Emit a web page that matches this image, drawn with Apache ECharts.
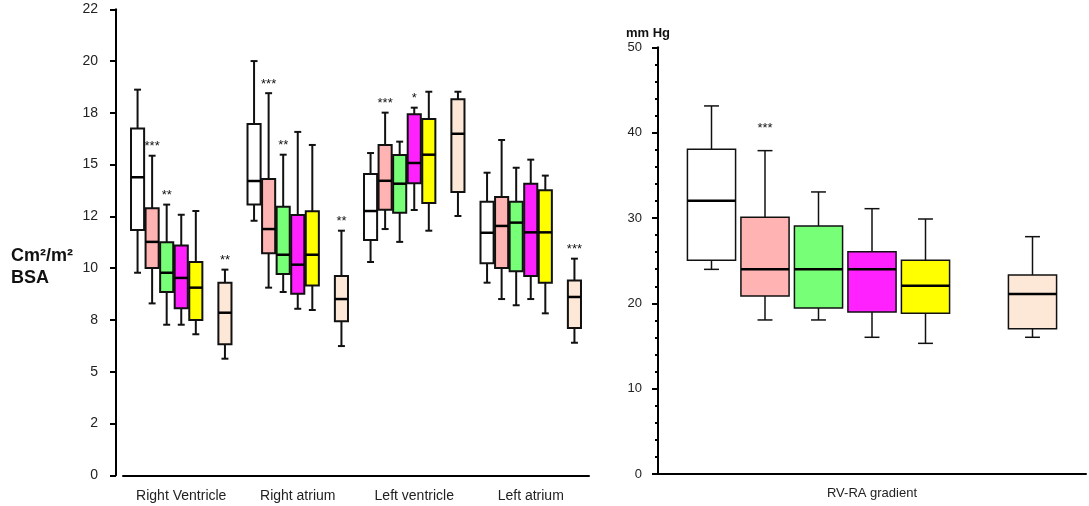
<!DOCTYPE html>
<html>
<head>
<meta charset="utf-8">
<script src="https://cdn.jsdelivr.net/npm/echarts@6/dist/echarts.min.js"></script>
<style>
  html, body { margin: 0; padding: 0; background: #fff; }
  #main { width: 1089px; height: 506px; }
</style>
</head>
<body>
<div id="main"></div>
<script>
// 左图 - 各心腔面积 (min, Q1, median, Q3, max)
const leftCategories = ['Right Ventricle', 'Right atrium', 'Left ventricle', 'Left atrium'];
const leftTickLabels = ['0', '2', '5', '8', '10', '12', '15', '18', '20', '22'];
const leftWhite = [[9.78, 11.84, 14.39, 16.75, 18.62], [12.29, 13.07, 14.21, 16.96, 20.0], [10.30, 11.36, 12.76, 14.55, 15.56], [9.30, 10.24, 11.71, 13.21, 14.61]];
const leftPink = [[8.30, 10.01, 11.27, 12.89, 15.43], [9.06, 10.72, 11.89, 14.31, 18.45], [11.89, 12.82, 14.22, 15.95, 17.51], [8.51, 10.01, 12.04, 13.44, 16.19]];
const leftGreen = [[7.27, 8.85, 9.78, 11.25, 13.07], [8.85, 9.72, 10.65, 12.97, 15.48], [11.27, 12.68, 14.08, 15.47, 16.11], [8.21, 9.85, 12.20, 13.21, 14.85]];
const leftMagenta = [[7.27, 8.06, 9.53, 11.09, 12.58], [8.04, 8.77, 10.17, 12.57, 16.58], [12.81, 14.10, 15.08, 17.43, 17.75], [8.51, 9.62, 11.73, 14.08, 15.24]];
const leftYellow = [[6.81, 7.50, 9.06, 10.30, 12.76], [7.98, 9.16, 10.65, 12.75, 15.95], [11.81, 13.15, 15.48, 17.20, 18.52], [7.82, 9.30, 11.73, 13.76, 14.47]];
const leftPeach = [[5.63, 6.33, 7.85, 9.30, 9.93], [6.24, 7.44, 8.51, 9.62, 11.81], [12.52, 13.68, 16.49, 18.16, 18.52], [6.40, 7.11, 8.61, 9.40, 10.46]];
const leftPinkStars = ['***', '***', '***', ''];
const leftGreenStars = ['**', '**', '', ''];
const leftMagentaStars = ['', '', '*', ''];
const leftPeachStars = ['**', '**', '', '***'];

// 右图 - RV-RA 压差
const rightCategories = ['RV-RA gradient'];
const rightWhite = [[23.98, 25.04, 32.03, 38.05, 43.13]];
const rightPink = [[18.05, 20.86, 23.98, 30.08, 37.89]];
const rightGreen = [[18.05, 19.45, 23.98, 29.06, 33.05]];
const rightMagenta = [[16.02, 18.99, 23.98, 26.05, 31.09]];
const rightYellow = [[15.31, 18.83, 22.07, 25.04, 29.88]];
const rightPeach = [[16.02, 17.03, 21.09, 23.32, 27.81]];
const rightPinkStars = ['***'];

const FONT = "'Liberation Sans', Arial, sans-serif";
const groupColors = ['#ffffff', '#ffb3b3', '#77ff77', '#ff22ff', '#ffff00', '#fde8d8'];
const groupSlots = [0, 1, 2, 3, 4, 6];

function toRows(list) {
    return list.map((d, i) => [i].concat(d));
}

// 箱线图绘制
function makeBoxRender(slot, color, stars, opt) {
    return function (params, api) {
        const cat = api.value(0);
        const band = api.size([1, 0])[0];
        const slotW = band / 8;
        const cx = api.coord([cat, 0])[0] + (slot - 3) * slotW;
        const halfW = slotW * 0.45;
        const capHalf = halfW * opt.capRatio;
        const yMin = api.coord([cat, api.value(1)])[1];
        const yQ1 = api.coord([cat, api.value(2)])[1];
        const yMed = api.coord([cat, api.value(3)])[1];
        const yQ3 = api.coord([cat, api.value(4)])[1];
        const yMax = api.coord([cat, api.value(5)])[1];
        const ls = { stroke: '#111', lineWidth: opt.line };
        const children = [
            { type: 'line', shape: { x1: cx, y1: yQ3, x2: cx, y2: yMax }, style: ls },
            { type: 'line', shape: { x1: cx, y1: yQ1, x2: cx, y2: yMin }, style: ls },
            { type: 'line', shape: { x1: cx - capHalf, y1: yMax, x2: cx + capHalf, y2: yMax }, style: ls },
            { type: 'line', shape: { x1: cx - capHalf, y1: yMin, x2: cx + capHalf, y2: yMin }, style: ls },
            {
                type: 'rect',
                shape: { x: cx - halfW, y: yQ3, width: halfW * 2, height: yQ1 - yQ3 },
                style: { fill: color, stroke: '#111', lineWidth: opt.line }
            },
            { type: 'line', shape: { x1: cx - halfW, y1: yMed, x2: cx + halfW, y2: yMed }, style: { stroke: '#000', lineWidth: opt.median } }
        ];
        const s = stars && stars[params.dataIndex];
        if (s) {
            children.push({
                type: 'text',
                style: {
                    text: s, x: cx, y: yMax - opt.starGap,
                    align: 'center', verticalAlign: 'middle',
                    font: '13px ' + FONT, fill: '#111'
                }
            });
        }
        return { type: 'group', children: children };
    };
}

function buildSeries(lists, starsList, axisIdx, opt) {
    return lists.map((list, i) => ({
        type: 'custom',
        xAxisIndex: axisIdx,
        yAxisIndex: axisIdx,
        data: toRows(list),
        encode: { x: 0, y: [1, 2, 3, 4, 5] },
        renderItem: makeBoxRender(groupSlots[i], groupColors[i], starsList[i], opt),
        silent: true
    }));
}

function initChart() {
    const chart = echarts.init(document.getElementById('main'));
    const axisLine = { show: true, lineStyle: { color: '#000', width: 2 } };

    const leftSeries = buildSeries(
        [leftWhite, leftPink, leftGreen, leftMagenta, leftYellow, leftPeach],
        [null, leftPinkStars, leftGreenStars, leftMagentaStars, null, leftPeachStars],
        0, { capRatio: 0.53, line: 2, median: 2.5, starGap: 9 }
    );
    const rightSeries = buildSeries(
        [rightWhite, rightPink, rightGreen, rightMagenta, rightYellow, rightPeach],
        [null, rightPinkStars, null, null, null, null],
        1, { capRatio: 0.31, line: 1.5, median: 2.5, starGap: 22 }
    );

    chart.setOption({
        animation: false,
        title: {
            text: 'Cm²/m²\nBSA',
            left: 6,
            top: 240,
            textStyle: { fontFamily: FONT, fontSize: 18, fontWeight: 'bold', color: '#111', lineHeight: 22 }
        },
        grid: [
            { left: 123, right: 500, top: 9.3, bottom: 30.7 },
            { left: 658, right: 3, top: 47.3, bottom: 32 }
        ],
        xAxis: [
            {
                gridIndex: 0,
                type: 'category',
                data: leftCategories,
                axisLine: axisLine,
                axisTick: { alignWithLabel: true, length: 4, lineStyle: { width: 2, color: '#000' } },
                axisLabel: { interval: 0, fontFamily: FONT, fontSize: 14, color: '#222', margin: 14 },
                splitLine: { show: false }
            },
            {
                gridIndex: 1,
                type: 'category',
                data: rightCategories,
                axisLine: axisLine,
                axisTick: { alignWithLabel: true, length: 4, lineStyle: { width: 2, color: '#000' } },
                axisLabel: { interval: 0, fontFamily: FONT, fontSize: 13, color: '#222', margin: 13 },
                splitLine: { show: false }
            }
        ],
        yAxis: [
            {
                gridIndex: 0,
                type: 'value',
                min: 0,
                max: 22.5,
                interval: 2.5,
                offset: 7,
                axisLine: axisLine,
                axisTick: { show: true, length: 6, lineStyle: { width: 2, color: '#000' } },
                axisLabel: {
                    fontFamily: FONT, fontSize: 14, color: '#222', margin: 18,
                    formatter: v => leftTickLabels[Math.round(v / 2.5)]
                },
                splitLine: { show: false }
            },
            {
                gridIndex: 1,
                type: 'value',
                min: 0,
                max: 50,
                interval: 10,
                name: 'mm Hg',
                nameLocation: 'end',
                nameGap: 7,
                nameTextStyle: { fontFamily: FONT, fontSize: 13, fontWeight: 'bold', color: '#111', padding: [0, 20, 0, 0] },
                axisLine: axisLine,
                axisTick: { show: true, length: 6, lineStyle: { width: 2, color: '#000' } },
                minorTick: { show: true, splitNumber: 5, length: 3, lineStyle: { width: 2, color: '#000' } },
                axisLabel: { fontFamily: FONT, fontSize: 13, color: '#222', margin: 16 },
                splitLine: { show: false }
            }
        ],
        series: leftSeries.concat(rightSeries)
    });

    window.addEventListener('resize', () => chart.resize());
}

document.addEventListener('DOMContentLoaded', initChart);
</script>
</body>
</html>
